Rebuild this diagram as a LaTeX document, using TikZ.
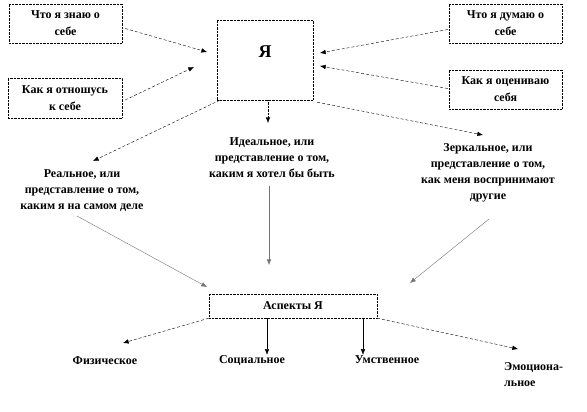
\documentclass[tikz,border=0pt]{standalone}
\usepackage{fontspec}
\setmainfont{Liberation Serif}
\usetikzlibrary{arrows.meta,positioning}

\begin{document}
\begin{tikzpicture}[x=1pt, y=-1pt,
  box/.style={draw, densely dotted, fill=white, align=center, inner sep=0pt,
    font=\bfseries\fontsize{12}{17}\selectfont},
  lbl/.style={align=center, inner sep=1pt, font=\bfseries\fontsize{12}{16}\selectfont},
  arr/.style={-{Latex[length=2mm,width=1.6mm]}, densely dashed, thin},
  sarr/.style={-{Latex[length=2mm,width=1.6mm]}, draw=black!55, thin}]
\useasboundingbox (0,0) rectangle (587,412);
% top row
\node[box, minimum width=113pt, minimum height=39pt] (know) at (65.5,23.5) {Что я знаю о\\себе};
\node[box, minimum width=114pt, minimum height=40pt] (feel) at (65,98) {Как я отношусь\\к себе};
\node[box, minimum width=96pt, minimum height=80pt, text depth=16pt, font=\bfseries\fontsize{18}{18}\selectfont] (ya) at (265,60) {Я};
\node[box, minimum width=113pt, minimum height=39pt] (think) at (505.5,23.5) {Что я думаю о\\себе};
\node[box, minimum width=113pt, minimum height=39pt] (rate) at (505.5,89.5) {Как я оцениваю\\себя};
% three selves
\node[lbl] (real) at (82,191) {Реальное, или\\представление о том,\\каким я на самом деле};
\node[lbl] (ideal) at (272,158) {Идеальное, или\\представление о том,\\каким я хотел бы быть};
\node[lbl] (mirror) at (488,173) {Зеркальное, или\\представление о том,\\как меня воспринимают\\другие};
% aspects
\node[box, minimum width=168pt, minimum height=24pt] (asp) at (293,306) {Аспекты Я};
\node[lbl] (phys) at (105,361) {Физическое};
\node[lbl] (soc) at (252,361) {Социальное};
\node[lbl] (ment) at (387,360) {Умственное};
\node[lbl, align=left, anchor=north west] (emo) at (503,361) {Эмоциона-\\льное};
% arrow ends
\coordinate (t1) at (207,52);
\coordinate (t2) at (194,67);
\coordinate (t3) at (320,53);
\coordinate (t4) at (320,66);
\coordinate (t5) at (93,161);
\coordinate (t6) at (268,123);
\coordinate (t7) at (483,135);
\coordinate (t8) at (207,287);
\coordinate (t9) at (269,265);
\coordinate (t10) at (410,283);
\coordinate (t11) at (123,343);
\coordinate (t12) at (518,349);
\draw[arr] ([shift={(3,5)}]know.east) -- (t1);
\draw[arr] ([shift={(3,2)}]feel.east) -- (t2);
\draw[arr] ([shift={(-1,6)}]think.west) -- (t3);
\draw[arr] ([shift={(-1,-1)}]rate.west) -- (t4);
\draw[arr] ([xshift=3pt]ya.south west) -- (t5);
\draw[arr, densely dotted] ([xshift=3pt]ya.south) -- (t6);
\draw[arr] ([shift={(4,2)}]ya.south east) -- (t7);
\draw[sarr] (77,216) -- (t8);
\draw[sarr] (269,186) -- (t9);
\draw[sarr] (489,219) -- (t10);
\draw[arr] (asp.south west) -- (t11);
\draw[-{Latex[length=2mm,width=1.6mm]}, thin] ([xshift=-26pt]asp.south) -- ([xshift=-26pt]asp.south |- soc.north);
\draw[-{Latex[length=2mm,width=1.6mm]}, thin] ([xshift=70pt]asp.south) -- ([xshift=70pt]asp.south |- ment.north);
\draw[arr] (asp.south east) -- (t12);
\end{tikzpicture}
\end{document}
